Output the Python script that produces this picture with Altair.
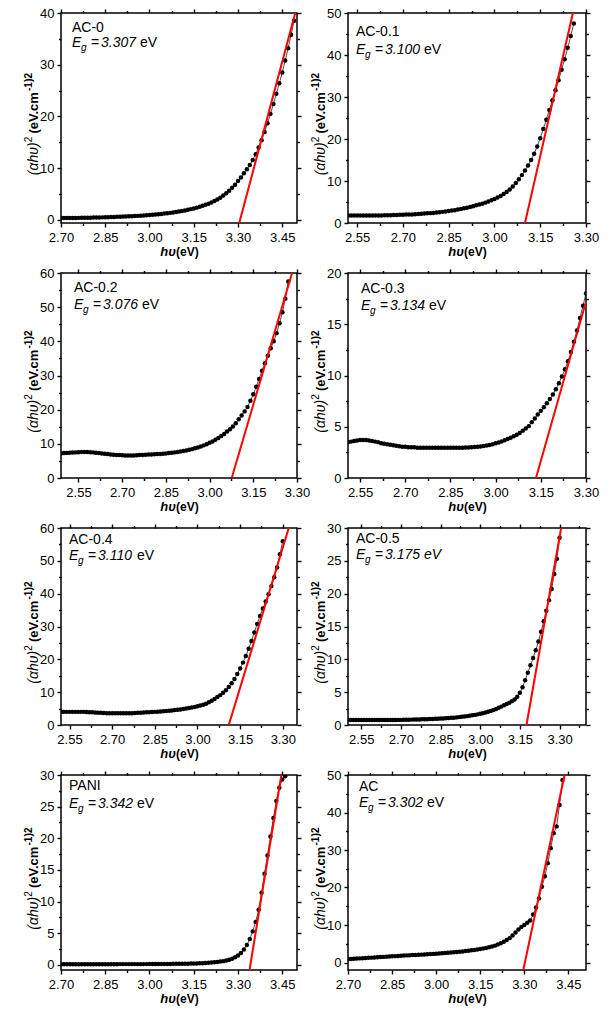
import altair as alt
import pandas as pd

FONT = "Liberation Sans"
STEP = 0.01  # sampling step of the photon-energy grid (eV)

# ---------------- data ----------------
names = ["AC-0", "AC-0.1", "AC-0.2", "AC-0.3", "AC-0.4", "AC-0.5", "PANI", "AC"]
eg_values = ["3.307", "3.100", "3.076", "3.134", "3.110", "3.175", "3.342", "3.302"]

ac0_start = 2.70
ac0_y = [0.35, 0.35, 0.35, 0.36, 0.37, 0.38, 0.39, 0.40, 0.41, 0.42,
         0.43, 0.45, 0.46, 0.48, 0.49, 0.51, 0.53, 0.55, 0.57, 0.59,
         0.61, 0.64, 0.66, 0.69, 0.72, 0.75, 0.78, 0.82, 0.86, 0.90,
         0.95, 1.00, 1.05, 1.10, 1.16, 1.22, 1.29, 1.36, 1.44, 1.53,
         1.62, 1.72, 1.83, 1.95, 2.08, 2.22, 2.37, 2.54, 2.72, 2.92,
         3.14, 3.38, 3.65, 3.95, 4.30, 4.70, 5.15, 5.65, 6.20, 6.80,
         7.50, 8.20, 9.00, 9.80, 10.6, 11.6, 12.7, 14.0, 15.4, 17.0,
         18.7, 20.5, 22.4, 24.4, 26.4, 28.5, 30.8, 33.2, 35.8, 38.5]

ac01_start = 2.52
ac01_y = [1.80, 1.80, 1.80, 1.80, 1.80, 1.80, 1.80, 1.80,
          1.80, 1.80, 1.80, 1.80, 1.85, 1.85, 1.85, 1.90, 1.90, 1.95,
          1.95, 2.00, 2.00, 2.05, 2.10, 2.15, 2.20, 2.25, 2.30, 2.35,
          2.40, 2.50, 2.55, 2.65, 2.75, 2.85, 2.95, 3.05, 3.20, 3.35,
          3.50, 3.65, 3.80, 4.00, 4.20, 4.40, 4.60, 4.85, 5.10, 5.40,
          5.70, 6.05, 6.45, 6.90, 7.40, 8.00, 8.70, 9.50, 10.4, 11.4,
          12.5, 13.7, 15.0, 16.5, 18.2, 20.2, 22.4, 24.6, 26.9, 29.2,
          31.6, 34.0, 36.5, 39.0, 41.7, 44.5, 47.5]

ac02_start = 2.49
ac02_y = [7.20,
          7.30, 7.35, 7.40, 7.45, 7.50, 7.55, 7.60, 7.60, 7.60, 7.55,
          7.50, 7.40, 7.30, 7.20, 7.10, 7.00, 6.90, 6.80, 6.75, 6.70,
          6.65, 6.60, 6.60, 6.60, 6.60, 6.65, 6.70, 6.75, 6.80, 6.85,
          6.90, 6.95, 7.00, 7.05, 7.10, 7.20, 7.30, 7.40, 7.50, 7.60,
          7.75, 7.90, 8.05, 8.25, 8.45, 8.70, 8.95, 9.25, 9.55, 9.90,
          10.3, 10.7, 11.2, 11.7, 12.3, 12.9, 13.6, 14.3, 15.1, 16.0,
          17.2, 18.3, 19.5, 20.8, 22.6, 24.5, 26.7, 29.0, 31.4, 33.6,
          35.8, 38.0, 40.0, 42.4, 45.3, 48.5, 52.5, 57.5]

ac03_start = 2.51
ac03_y = [3.50, 3.55, 3.60, 3.65, 3.70, 3.70, 3.70, 3.65, 3.60,
          3.55, 3.50, 3.40, 3.35, 3.30, 3.25, 3.20, 3.15, 3.10, 3.05,
          3.05, 3.00, 3.00, 3.00, 2.95, 2.95, 2.95, 2.95, 2.95, 2.95,
          2.95, 2.95, 2.95, 2.95, 2.95, 2.95, 2.95, 2.95, 2.95, 2.95,
          2.97, 2.98, 3.00, 3.02, 3.05, 3.08, 3.12, 3.17, 3.23, 3.30,
          3.38, 3.47, 3.57, 3.68, 3.80, 3.93, 4.07, 4.22, 4.40, 4.60,
          4.82, 5.06, 5.45, 5.80, 6.20, 6.55, 6.90, 7.30, 7.70, 8.15,
          8.65, 9.25, 9.90, 10.6, 11.4, 12.3, 13.3, 14.4, 15.6, 16.8,
          18.0]

ac04_start = 2.52
ac04_y = [4.00, 4.00, 4.00, 4.00, 4.00, 4.00, 4.00, 4.00,
          4.00, 3.95, 3.90, 3.85, 3.80, 3.75, 3.70, 3.65, 3.60, 3.60,
          3.55, 3.55, 3.55, 3.55, 3.55, 3.55, 3.60, 3.60, 3.65, 3.70,
          3.75, 3.80, 3.85, 3.90, 3.95, 4.00, 4.05, 4.12, 4.20, 4.28,
          4.36, 4.45, 4.55, 4.65, 4.75, 4.90, 5.05, 5.20, 5.35, 5.50,
          5.70, 5.95, 6.20, 6.50, 6.90, 7.40, 7.90, 8.50, 9.10, 9.80,
          10.6, 11.6, 12.7, 14.0, 15.5, 17.2, 19.0, 21.0, 23.2, 25.6,
          28.2, 30.8, 33.2, 35.5, 37.6, 39.8, 42.3, 45.0, 48.0, 52.0,
          56.0]

ac05_start = 2.50
ac05_y = [0.75, 0.75, 0.75, 0.75, 0.75, 0.75, 0.75, 0.75, 0.75, 0.75,
          0.75, 0.75, 0.75, 0.75, 0.75, 0.76, 0.76, 0.77, 0.77, 0.78,
          0.78, 0.79, 0.80, 0.81, 0.82, 0.83, 0.84, 0.85, 0.86, 0.87,
          0.88, 0.90, 0.92, 0.94, 0.96, 0.98, 1.00, 1.03, 1.06, 1.09,
          1.12, 1.16, 1.20, 1.25, 1.30, 1.35, 1.41, 1.47, 1.54, 1.62,
          1.70, 1.80, 1.90, 2.02, 2.15, 2.30, 2.45, 2.62, 2.80, 3.00,
          3.20, 3.40, 3.62, 3.90, 4.30, 4.90, 5.75, 6.80, 7.95, 9.10,
          10.2, 11.4, 12.7, 14.2, 15.8, 17.4, 19.0, 20.7, 23.0, 25.3,
          28.5]

pani_start = 2.70
pani_y = [0.12, 0.12, 0.12, 0.12, 0.12, 0.12, 0.12, 0.12, 0.12, 0.12,
          0.12, 0.12, 0.12, 0.12, 0.12, 0.12, 0.12, 0.12, 0.12, 0.12,
          0.13, 0.13, 0.13, 0.13, 0.13, 0.13, 0.13, 0.13, 0.13, 0.13,
          0.14, 0.14, 0.14, 0.15, 0.15, 0.15, 0.16, 0.16, 0.17, 0.17,
          0.18, 0.18, 0.19, 0.20, 0.21, 0.22, 0.24, 0.26, 0.28, 0.31,
          0.34, 0.38, 0.42, 0.47, 0.53, 0.60, 0.70, 0.82, 0.98, 1.20,
          1.50, 1.90, 2.45, 3.15, 4.10, 5.30, 6.80, 8.70, 11.4, 14.4,
          17.3, 20.3, 23.2, 25.9, 28.0, 29.3, 29.8]

ac_start = 2.70
ac_y = [0.90, 0.95, 1.00, 1.05, 1.10, 1.15, 1.20, 1.25, 1.30, 1.35,
        1.40, 1.45, 1.50, 1.55, 1.60, 1.65, 1.70, 1.75, 1.80, 1.85,
        1.90, 1.94, 1.98, 2.02, 2.06, 2.10, 2.15, 2.20, 2.25, 2.30,
        2.35, 2.40, 2.46, 2.52, 2.58, 2.65, 2.72, 2.80, 2.88, 2.96,
        3.05, 3.14, 3.24, 3.35, 3.46, 3.58, 3.72, 3.88, 4.05, 4.25,
        4.50, 4.80, 5.15, 5.55, 6.00, 6.50, 7.20, 8.00, 8.80, 9.50,
        10.0, 10.6, 11.2, 12.8, 14.7, 17.1, 20.2, 23.0, 26.5, 30.5,
        34.5, 36.3, 42.0, 48.7]

starts = [ac0_start, ac01_start, ac02_start, ac03_start, ac04_start, ac05_start, pani_start, ac_start]
series = [ac0_y, ac01_y, ac02_y, ac03_y, ac04_y, ac05_y, pani_y, ac_y]

x_domains = [[2.70, 3.50], [2.52, 3.30], [2.49, 3.30], [2.51, 3.30],
             [2.52, 3.35], [2.50, 3.40], [2.70, 3.50], [2.70, 3.51]]
y_domains = [[-0.6, 40], [0, 50], [0, 60], [0, 20], [0, 60], [0, 30], [-0.8, 30], [-2, 50]]
x_ticks_hi = [2.70, 2.85, 3.00, 3.15, 3.30, 3.45]
x_ticks_lo = [2.55, 2.70, 2.85, 3.00, 3.15, 3.30]
x_ticks = [x_ticks_hi, x_ticks_lo, x_ticks_lo, x_ticks_lo,
           x_ticks_lo, x_ticks_lo, x_ticks_hi, x_ticks_hi]
y_ticks = [[0, 10, 20, 30, 40], [0, 10, 20, 30, 40, 50], [0, 10, 20, 30, 40, 50, 60],
           [0, 5, 10, 15, 20], [0, 10, 20, 30, 40, 50, 60], [0, 5, 10, 15, 20, 25, 30],
           [0, 5, 10, 15, 20, 25, 30], [0, 10, 20, 30, 40, 50]]
# point where the red linear fit leaves the frame (x, y)
fit_end = [[3.494, 40], [3.257, 50], [3.283, 60], [3.30, 17.2],
           [3.321, 60], [3.306, 30], [3.447, 30], [3.437, 50]]

# ---------------- layout / style ----------------
name_pos = [(11, 19), (8, 23), (13, 19), (13, 20), (8, 16), (8, 15), (8, 15), (11, 16)]
eg_base = [34, 41, 36, 37, 32, 31, 33, 32]
unit_italic = [False, False, False, False, False, True, False, False]
widths = [236, 238]
heights = [210, 205, 197, 195]

# y-axis title pieces: text, size, style, weight, raised, advance(px)
ytitle = [("(\u03b1h\u03c5)", 14, "italic", "normal", False, 33.0),
          ("2", 10, "normal", "normal", True, 8.6),
          ("(eV.cm", 13, "normal", "bold", False, 42.6),
          ("-1", 10, "normal", "bold", True, 8.9),
          (")", 11, "normal", "bold", True, 3.7),
          ("2", 10, "normal", "bold", True, 5.6)]

one = pd.DataFrame({"k": [0]})


def grid(start, ys):
    return [round(start + STEP * i, 2) for i in range(len(ys))]


def minors(major, lo, hi):
    step = major[1] - major[0]
    cand = [major[0] - step / 2] + [m + step / 2 for m in major]
    return [round(c, 4) for c in cand if lo < c < hi]


def axis(orient, values, size, labels=False, fmt=None, pad=3):
    kw = dict(orient=orient, values=values, tickSize=size, tickWidth=1.4,
              tickColor="black", domain=False, grid=False, labels=labels, title=None)
    if labels:
        kw.update(format=fmt, labelFont=FONT, labelFontSize=13, labelColor="black",
                  labelPadding=pad, labelFlush=False, labelOverlap=False)
    return alt.Axis(**kw)


def txt(s, x, y, size=14, style="normal", weight="normal", align="left",
        baseline="alphabetic", angle=None):
    kw = dict(text=s, font=FONT, fontSize=size, fontStyle=style, fontWeight=weight,
              align=align, baseline=baseline, color="black")
    if angle is not None:
        kw["angle"] = angle
    return alt.Chart(one).mark_text(**kw).encode(x=alt.value(x), y=alt.value(y))


def panel(i):
    w = widths[i % 2]
    h = heights[i // 2]
    ys_ = series[i]
    df = pd.DataFrame({"x": grid(starts[i], ys_), "y": ys_})
    xd, yd = x_domains[i], y_domains[i]
    xs = alt.Scale(domain=xd, nice=False, zero=False)
    ys = alt.Scale(domain=yd, nice=False, zero=False)
    xmaj, ymaj = x_ticks[i], y_ticks[i]
    xmin, ymin = minors(xmaj, xd[0], xd[1]), minors(ymaj, yd[0], yd[1])

    eg = float(eg_values[i])
    xe, ye = fit_end[i]
    x0 = eg + yd[0] * (xe - eg) / ye
    fit_df = pd.DataFrame({"x": [x0, xe], "y": [yd[0], ye]})

    line = alt.Chart(df).mark_line(color="black", strokeWidth=0.7, clip=True).encode(
        x=alt.X("x:Q", scale=xs, axis=axis("bottom", xmaj, 4, True, ".2f", 4)),
        y=alt.Y("y:Q", scale=ys, axis=axis("left", ymaj, 4, True, "d", 3)),
    )
    pts = alt.Chart(df).mark_circle(color="black", size=20, opacity=1, clip=True).encode(
        x=alt.X("x:Q", scale=xs, axis=axis("top", xmaj, 4)),
        y=alt.Y("y:Q", scale=ys, axis=axis("right", ymaj, 4)),
    )
    fit = alt.Chart(fit_df).mark_line(color="#ff0000", strokeWidth=2, clip=True).encode(
        x=alt.X("x:Q", scale=xs, axis=axis("bottom", xmin, 2.5)),
        y=alt.Y("y:Q", scale=ys, axis=axis("left", ymin, 2.5)),
    )
    ghost = alt.Chart(fit_df).mark_point(opacity=0).encode(
        x=alt.X("x:Q", scale=xs, axis=axis("top", xmin, 2.5)),
        y=alt.Y("y:Q", scale=ys, axis=axis("right", ymin, 2.5)),
    )

    nx, ny = name_pos[i]
    eb = eg_base[i]
    ust = "italic" if unit_italic[i] else "normal"
    texts = [
        txt(names[i], nx, ny),
        txt("E", nx, eb, style="italic"),
        txt("g", nx + 9, eb + 4, size=10, style="italic"),
        txt("=", nx + 19, eb),
        txt(eg_values[i], nx + 29, eb, style="italic"),
        txt("eV", nx + 68, eb, style=ust),
        # x axis title
        txt("h\u03c5", w / 2 - 3, h + 33, size=13, style="italic", weight="bold", align="right"),
        txt("(eV)", w / 2 - 3, h + 33, size=12, weight="bold"),
    ]
    # y axis title, rotated, built from pieces running bottom -> top
    total = sum(p[5] for p in ytitle)
    cur = h / 2 + 6 + total / 2
    for s, size, style, weight, raised, adv in ytitle:
        texts.append(txt(s, -29 if raised else -23, cur, size=size, style=style,
                         weight=weight, align="left", baseline="alphabetic", angle=270))
        cur -= adv

    layers = [line, pts, fit, ghost, *texts]
    if i == 0:
        # invisible anchor fixing the top-left margin of the whole figure
        layers.append(alt.Chart(one).mark_rule(opacity=0, color="white").encode(
            x=alt.value(-60), x2=alt.value(-59), y=alt.value(-12), y2=alt.value(-11)))
    return alt.layer(*layers).properties(width=w, height=h).resolve_axis(
        x="independent", y="independent")


chart = alt.concat(
    *[panel(i) for i in range(8)],
    columns=2,
    bounds="flush",
    spacing={"row": 50, "column": 51},
).properties(
    padding={"left": 0, "top": 0, "right": 5, "bottom": 5}
).configure_view(
    stroke="black", strokeWidth=1.5
)

chart.save("out.html", embed_options={"renderer": "svg", "actions": False})
